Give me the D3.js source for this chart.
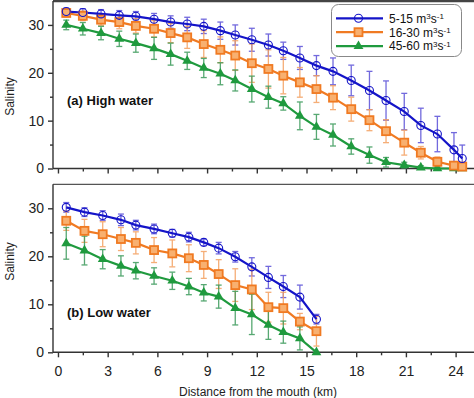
<!DOCTYPE html>
<html><head><meta charset="utf-8">
<script src="https://cdn.jsdelivr.net/npm/d3@7"></script>
<style>body{margin:0;background:#fff}svg{display:block;font-family:Arial,"Liberation Sans",sans-serif}</style>
</head><body><svg id="c" width="474" height="398"></svg>
<script>
// ---- data ----
const seriesNames = ["5-15", "16-30", "45-60"];
const xTicks = [0, 3, 6, 9, 12, 15, 18, 21, 24];
const yTicks = [0, 10, 20, 30];

const highX = [0.5,1.5,2.6,3.7,4.7,5.8,6.8,7.8,8.8,9.8,10.7,11.7,12.7,13.6,14.6,15.6,16.6,17.7,18.8,19.8,20.9,21.9,22.9,23.9,24.4];
const highBlue = [32.8,32.6,32.3,32.0,31.8,31.2,30.6,30.2,29.7,28.8,27.9,26.9,25.8,24.6,23.1,21.5,20.3,18.4,16.3,14.2,11.9,9.0,7.2,3.9,2.1];
const highBlueErr = [0.7,0.8,0.9,1.0,1.0,1.2,1.3,1.4,1.5,1.8,2.1,2.4,2.3,1.8,2.4,2.1,2.8,3.2,4.0,4.1,3.8,3.6,3.7,3.6,2.8];
const highOrange = [32.5,31.9,31.1,30.6,29.8,29.2,28.3,27.4,26.0,24.8,23.6,22.0,20.8,19.4,18.0,16.6,14.8,12.4,10.1,7.8,5.4,3.3,1.4,0.6,0.4];
const highOrangeErr = [0.8,1.0,1.2,1.4,1.5,1.7,2.0,2.3,2.8,2.7,3.1,4.0,4.0,3.8,3.1,2.8,2.5,2.5,2.2,2.4,2.6,1.3,1.0,0.8,0.5];
const highGreen = [30.0,29.2,28.3,27.1,26.2,25.1,23.9,22.5,21.0,19.8,18.4,16.6,14.9,13.6,11.0,8.7,7.0,4.6,2.8,1.3,0.7,0.2,0.0,0.0,0.0];
const highGreenErr = [1.0,1.3,1.4,1.6,1.9,2.3,2.3,1.8,2.0,2.3,2.2,2.7,2.3,1.4,2.9,2.6,2.3,1.6,1.7,1.0,0.6,0.4,0.3,0.2,0.2];

const lowX = [0.5,1.6,2.7,3.8,4.7,5.8,6.9,7.9,8.8,9.7,10.7,11.7,12.7,13.6,14.6,15.6];
const lowBlue = [30.2,29.2,28.5,27.6,26.5,25.7,24.8,24.0,22.9,21.7,19.9,17.8,15.6,13.7,11.5,6.9];
const lowBlueErr = [1.0,0.9,1.0,1.2,1.0,1.0,0.8,1.0,0.7,1.2,1.1,1.9,2.3,2.3,2.5,1.0];
const lowOrange = [27.4,25.3,24.6,23.6,22.8,21.3,20.6,19.6,18.2,16.3,14.0,13.1,9.4,9.2,6.4,4.4];
const lowOrangeErr = [2.0,2.4,2.6,2.4,2.3,2.6,2.8,2.8,2.8,3.0,3.4,4.2,3.1,3.3,1.7,3.1];
const lowGreen = [22.7,21.2,19.4,18.0,17.0,15.9,14.9,13.7,12.4,11.6,9.2,7.9,5.7,4.2,2.9,0.0];
const lowGreenErr = [3.3,3.0,2.0,2.1,1.7,1.7,1.8,1.7,1.7,2.4,3.5,4.2,3.0,2.3,2.4,0.0];

// ---- styles ----
const colors = {line:["#1414c8","#f07a22","#1f9a3e"], err:["#5a50d8","#f4a060","#3a9a5a"]};
const svg = d3.select("#c");
const axisColor = "#333";

const x = d3.scaleLinear().domain([-0.3, 25.2]).range([53, 475.5]);

function panel(top, bottom, xs, ys, errs, label, labelY, titleY, showXLabels, drawTopThick) {
  const y = d3.scaleLinear().domain([0, 35]).range([bottom, top]);
  const g = svg.append("g");
  // frame
  g.append("line").attr("x1", 53).attr("x2", 480).attr("y1", top).attr("y2", top)
    .attr("stroke", drawTopThick ? "#444" : "#555").attr("stroke-width", drawTopThick ? 2.5 : 1.2);
  // y axis
  const ya = d3.axisLeft(y).tickValues(yTicks).tickSize(5).tickPadding(4);
  const yg = g.append("g").attr("transform", "translate(53,0)").call(ya);
  const yMinor = d3.axisLeft(y).tickValues([5,15,25]).tickSize(3).tickFormat("");
  const ym = g.append("g").attr("transform", "translate(53,0)").call(yMinor);
  ym.select(".domain").remove();
  // x axis
  const xa = d3.axisBottom(x).tickValues(xTicks).tickSize(5).tickPadding(9)
    .tickFormat(showXLabels ? d3.format("d") : "");
  const xg = g.append("g").attr("transform", `translate(0,${bottom})`).call(xa);
  const xMinor = d3.axisBottom(x).tickValues(d3.range(1.5, 25, 3)).tickSize(3).tickFormat("");
  const xm = g.append("g").attr("transform", `translate(0,${bottom})`).call(xMinor);
  xm.select(".domain").remove();
  [yg, ym, xg, xm].forEach(a => {
    a.selectAll("path,line").attr("stroke", axisColor).attr("stroke-width", 1.4);
    a.selectAll("text").attr("fill", "#222").style("font-size", "14px")
      .style("font-family", 'Arial,"Liberation Sans",sans-serif');
  });
  yg.select(".domain").attr("d", `M-0,${bottom}V${top}`);
  xg.select(".domain").attr("d", `M53,0H480`);

  // error bars
  const cap = 3;
  ys.forEach((vals, s) => {
    const eg = g.append("g").attr("stroke", colors.err[s]).attr("stroke-width", 1.3).attr("opacity", 0.85);
    vals.forEach((v, i) => {
      const e = errs[s][i];
      if (e <= 0) return;
      const cx = x(xs[i]);
      const y1 = y(Math.max(0, v - e)), y2 = y(v + e);
      eg.append("line").attr("x1", cx).attr("x2", cx).attr("y1", y1).attr("y2", y2);
      eg.append("line").attr("x1", cx - cap).attr("x2", cx + cap).attr("y1", y2).attr("y2", y2);
      if (v - e > 0) eg.append("line").attr("x1", cx - cap).attr("x2", cx + cap).attr("y1", y1).attr("y2", y1);
    });
  });
  // lines (green, orange, blue order)
  const line = d3.line().x((d, i) => x(xs[i])).y(d => y(d));
  [2, 1, 0].forEach(s => {
    g.append("path").datum(ys[s]).attr("d", line).attr("fill", "none")
      .attr("stroke", colors.line[s]).attr("stroke-width", 2.2);
  });
  // markers
  [2, 1, 0].forEach(s => {
    ys[s].forEach((v, i) => drawMarker(g, s, x(xs[i]), y(v)));
  });
  // label
  g.append("text").attr("x", 67).attr("y", labelY).text(label)
    .style("font-size", "13px").style("font-weight", "bold").attr("fill", "#111");
  // y title
  g.append("text").attr("transform", `translate(13.5,${titleY}) rotate(-90)`)
    .attr("text-anchor", "middle").text("Salinity").style("font-size", "12px").attr("fill", "#222");
}

function drawMarker(g, s, cx, cy) {
  if (s === 0) {
    g.append("circle").attr("cx", cx).attr("cy", cy).attr("r", 4)
      .attr("fill", "none").attr("stroke", colors.line[0]).attr("stroke-width", 1.1);
  } else if (s === 1) {
    g.append("rect").attr("x", cx - 4).attr("y", cy - 4).attr("width", 8).attr("height", 8)
      .attr("fill", "#f8b070").attr("stroke", colors.line[1]).attr("stroke-width", 1.8);
  } else {
    g.append("path").attr("d", d3.symbol(d3.symbolTriangle, 42)())
      .attr("transform", `translate(${cx},${cy})`).attr("fill", colors.line[2]);
  }
}

panel(1, 168.5, highX, [highBlue, highOrange, highGreen], [highBlueErr, highOrangeErr, highGreenErr], "(a) High water", 104.5, 96.5, false, true);
panel(184.3, 352.3, lowX, [lowBlue, lowOrange, lowGreen], [lowBlueErr, lowOrangeErr, lowGreenErr], "(b) Low water", 317, 261.5, true, false);

// x title
svg.append("text").attr("x", 258).attr("y", 395.5).attr("text-anchor", "middle")
  .text("Distance from the mouth (km)").style("font-size", "12px").attr("fill", "#222");

// legend
const lg = svg.append("g");
lg.append("rect").attr("x", 331.5).attr("y", 4.5).attr("width", 130).attr("height", 52).attr("rx", 7)
  .attr("fill", "#fff").attr("stroke", "#888").attr("stroke-width", 1);
const rowY = [18.3, 32.2, 46.1];
seriesNames.forEach((nm, s) => {
  lg.append("line").attr("x1", 336).attr("x2", 383).attr("y1", rowY[s]).attr("y2", rowY[s])
    .attr("stroke", colors.line[s]).attr("stroke-width", 2.2);
  drawMarker(lg, s, 358.5, rowY[s]);
  const t = lg.append("text").attr("x", 389).attr("y", rowY[s] + 4.3).style("font-size", "12px").attr("fill", "#111");
  t.append("tspan").text(nm + " m");
  t.append("tspan").text("3").attr("dy", -3.5).style("font-size", "8px");
  t.append("tspan").text("s").attr("dy", 3.5);
  t.append("tspan").text("-1").attr("dy", -3.5).style("font-size", "8px");
});
</script></body></html>
